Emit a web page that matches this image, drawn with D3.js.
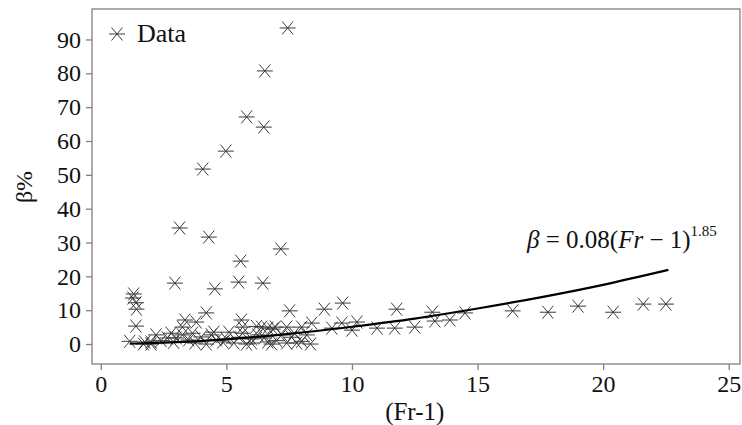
<!DOCTYPE html>
<html>
<head>
<meta charset="utf-8">
<script src="https://cdn.jsdelivr.net/npm/d3@7"></script>
<style>
  body { margin: 0; background: #fff; }
  text { font-family: "Liberation Serif", "Times New Roman", serif; fill: #111; }
</style>
</head>
<body>
<div id="chart"></div>
<script>
// measured points, (Fr-1) and beta %
const frValues = [
  7.44, 6.53, 5.81, 6.49, 4.98, 4.06, 3.14, 4.30, 7.17, 5.57, 2.95, 5.49, 6.45, 4.54,
  1.31, 1.28, 1.40, 1.42, 1.40, 7.52, 9.63, 8.90, 11.78, 13.2, 14.5, 16.4, 17.8, 19.0,
  20.4, 21.6, 22.5, 9.60, 10.2, 10.0, 11.0, 11.7, 12.5, 13.3, 13.9, 8.00, 8.40, 8.20,
  8.35, 9.20, 4.20, 3.35, 3.80, 3.25, 5.60, 5.65, 6.40, 6.65, 6.85, 7.40, 6.20, 6.95,
  4.50, 5.10, 5.65, 6.25, 6.65, 6.80, 6.00, 4.86, 5.30, 7.40, 7.80, 7.20, 1.15, 1.75,
  2.00, 2.20, 2.65, 2.80, 3.00, 3.25, 3.65, 4.00, 3.75, 4.20, 4.40, 4.60, 1.70, 2.00,
  2.40, 5.00, 5.50, 6.00, 3.50, 2.90, 7.00, 7.60, 8.00, 5.80, 6.50, 7.70
];
const betaValues = [
  93.4, 80.7, 67.1, 64.1, 57.0, 51.7, 34.3, 31.6, 28.1, 24.5, 18.0, 18.3, 18.0, 16.3,
  14.8, 13.6, 12.2, 10.3, 5.3, 9.8, 12.1, 10.3, 10.3, 9.4, 9.2, 9.8, 9.4, 11.2,
  9.4, 11.8, 11.8, 6.2, 6.5, 4.1, 4.7, 4.7, 5.0, 6.8, 7.1, 5.0, 6.2, 2.7,
  0.0, 4.7, 9.2, 7.1, 6.5, 5.0, 7.1, 5.0, 5.0, 4.7, 4.4, 5.0, 5.2, 5.0,
  3.5, 3.5, 3.2, 2.7, 0.6, 0.0, 0.3, 0.6, 0.3, 0.3, 0.3, 2.7, 0.8, 0.6,
  0.6, 2.7, 1.8, 3.2, 1.8, 2.7, 3.2, 2.1, 0.3, 0.0, 2.7, 1.2, 0.0, 0.0,
  1.0, 1.5, 2.0, 1.5, 1.2, 0.5, 1.0, 2.0, 0.8, 0.0, 1.8, 3.2
];

// fitted curve
const fitFr = [1.15, 2.5, 5, 7.5, 10, 12.5, 15, 17.5, 20, 22.6];
const fitBeta = [0.1, 0.4, 1.4, 3.0, 5.1, 7.5, 10.5, 13.8, 17.5, 21.9];

const xTicks = [0, 5, 10, 15, 20, 25];
const yTicks = [0, 10, 20, 30, 40, 50, 60, 70, 80, 90];

const margin = {top: 9, right: 2, bottom: 61, left: 92},
      width = 742 - margin.left - margin.right,
      height = 425 - margin.top - margin.bottom;

const svg = d3.select('#chart').append('svg')
    .attr('width', 742)
    .attr('height', 425);

const g = svg.append('g')
    .attr('transform', `translate(${margin.left},${margin.top})`);

const x = d3.scaleLinear().domain([-0.35, 25.45]).range([0, width]);
const y = d3.scaleLinear().domain([-5.9, 99]).range([height, 0]);

const frameColour = '#808080';

// axes with outward ticks
const xAxis = g.append('g')
    .attr('transform', `translate(0,${height})`)
    .call(d3.axisBottom(x).tickValues(xTicks).tickSize(6).tickPadding(5).tickSizeOuter(0));
const yAxis = g.append('g')
    .call(d3.axisLeft(y).tickValues(yTicks).tickSize(6).tickPadding(5).tickSizeOuter(0));

[xAxis, yAxis].forEach(a => {
  a.select('.domain').remove();
  a.selectAll('.tick line').attr('stroke', frameColour).attr('stroke-width', 1.3);
  a.selectAll('.tick text')
      .style('font-family', '"Liberation Serif", serif')
      .style('font-size', '24px')
      .attr('fill', '#111');
});

// box round the plot
g.append('rect')
    .attr('width', width)
    .attr('height', height)
    .attr('fill', 'none')
    .attr('stroke', frameColour)
    .attr('stroke-width', 1.3);

// asterisk marker: horizontal bar plus two diagonals
const star = 'M-8,0H8M-5.5,-6.5L5.5,6.5M-5.5,6.5L5.5,-6.5';

g.append('g')
  .selectAll('path')
    .data(frValues.map((f, i) => [f, betaValues[i]]))
  .enter().append('path')
    .attr('transform', d => `translate(${x(d[0])},${y(d[1])})`)
    .attr('d', star)
    .attr('fill', 'none')
    .attr('stroke', '#3a3a3a')
    .attr('stroke-width', 1);

const line = d3.line()
    .curve(d3.curveMonotoneX)
    .x(d => x(d[0]))
    .y(d => y(d[1]));

g.append('path')
    .datum(fitFr.map((f, i) => [f, fitBeta[i]]))
    .attr('d', line)
    .attr('fill', 'none')
    .attr('stroke', '#000')
    .attr('stroke-width', 2.2);

// legend
svg.append('path')
    .attr('transform', 'translate(117,34)')
    .attr('d', star)
    .attr('fill', 'none')
    .attr('stroke', '#3a3a3a')
    .attr('stroke-width', 1);
svg.append('text')
    .attr('x', 137)
    .attr('y', 42)
    .style('font-size', '26px')
    .text('Data');

// equation of the fit
const eq = svg.append('text')
    .attr('x', 527)
    .attr('y', 248)
    .style('font-size', '25px');
eq.append('tspan').style('font-style', 'italic').text('β');
eq.append('tspan').text(' = 0.08(');
eq.append('tspan').style('font-style', 'italic').text('Fr');
eq.append('tspan').text(' − 1)');
eq.append('tspan').attr('dy', -12).style('font-size', '15px').text('1.85');

// axis titles
svg.append('text')
    .attr('x', margin.left + x(12.5))
    .attr('y', 420)
    .attr('text-anchor', 'middle')
    .style('font-size', '25px')
    .text('(Fr-1)');
svg.append('text')
    .attr('transform', 'translate(32,187) rotate(-90)')
    .attr('text-anchor', 'middle')
    .style('font-size', '24px')
    .text('β%');
</script>
</body>
</html>
